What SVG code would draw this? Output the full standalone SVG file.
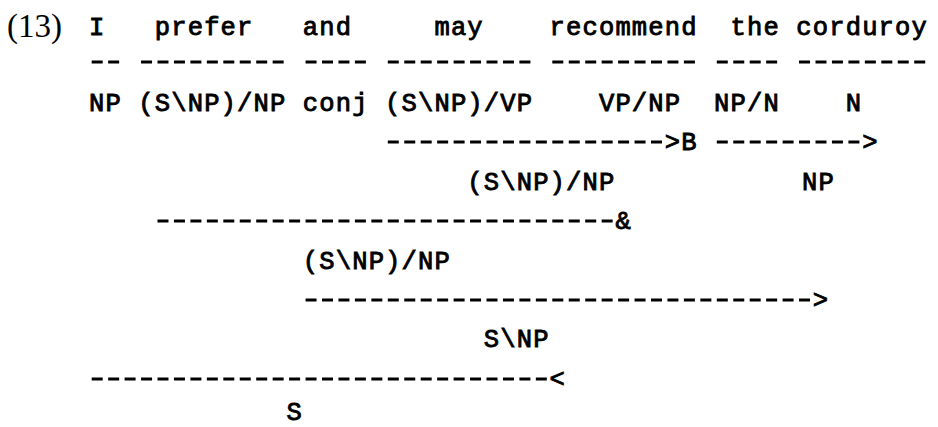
<svg xmlns="http://www.w3.org/2000/svg" width="938" height="427" viewBox="0 0 938 427">
<style>
text{fill:#000}
.t{font-family:"Liberation Mono","DejaVu Sans Mono",monospace;font-size:25.5px;letter-spacing:1.15px;stroke:#000;stroke-width:0.9px}
.num{font-family:"Liberation Serif","DejaVu Serif",serif;font-size:33px}
.d{stroke:#000;stroke-width:3.2;stroke-dasharray:11 5.45;fill:none}
</style>
<rect width="938" height="427" fill="#fff"/>
<text class="num" x="7" y="37">(13)</text>
<g id="words">
<g id="w-I"><text class="t" x="89" y="35">I</text></g>
<g id="w-prefer"><text class="t" x="154.8" y="35">prefer</text></g>
<g id="w-and"><text class="t" x="302.85" y="35">and</text></g>
<g id="w-may"><text class="t" x="434.45" y="35">may</text></g>
<g id="w-recommend"><text class="t" x="549.6" y="35">recommend</text></g>
<g id="w-the"><text class="t" x="730.55" y="35">the</text></g>
<g id="w-corduroy"><text class="t" x="796.35" y="35">corduroy</text></g>
</g>
<g id="lex">
<g id="c-I"><text class="t" x="89" y="111">NP</text></g>
<g id="c-prefer"><text class="t" x="138.35" y="111">(S\NP)/NP</text></g>
<g id="c-and"><text class="t" x="302.85" y="111">conj</text></g>
<g id="c-may"><text class="t" x="385.1" y="111">(S\NP)/VP</text></g>
<g id="c-recommend"><text class="t" x="598.95" y="111">VP/NP</text></g>
<g id="c-the"><text class="t" x="714.1" y="111">NP/N</text></g>
<g id="c-corduroy"><text class="t" x="845.7" y="111">N</text></g>
</g>
<g id="c-mayrec"><text class="t" x="467.35" y="190">(S\NP)/NP</text></g>
<g id="c-np"><text class="t" x="802" y="190">NP</text></g>
<g id="c-coord"><text class="t" x="302.85" y="268.5">(S\NP)/NP</text></g>
<g id="c-vp"><text class="t" x="483.8" y="347">S\NP</text></g>
<g id="c-s"><text class="t" x="286.4" y="420">S</text></g>
<g id="connectors">
<line class="d" x1="91.7" y1="62" x2="119.15" y2="62"/>
<line class="d" x1="141.05" y1="62" x2="283.65" y2="62"/>
<line class="d" x1="305.55" y1="62" x2="365.9" y2="62"/>
<line class="d" x1="387.8" y1="62" x2="530.4" y2="62"/>
<line class="d" x1="552.3" y1="62" x2="694.9" y2="62"/>
<line class="d" x1="716.8" y1="62" x2="777.15" y2="62"/>
<line class="d" x1="799.05" y1="62" x2="925.2" y2="62"/>
<line class="d" x1="387.8" y1="142" x2="662" y2="142"/>
<text class="t" x="664.75" y="150">&gt;B</text>
<line class="d" x1="716.8" y1="142" x2="859.4" y2="142"/>
<text class="t" x="862.15" y="150">&gt;</text>
<line class="d" x1="157.5" y1="221" x2="612.65" y2="221"/>
<text class="t" x="615.4" y="229">&amp;</text>
<line class="d" x1="305.55" y1="300" x2="810.05" y2="300"/>
<text class="t" x="812.8" y="308">&gt;</text>
<line class="d" x1="91.7" y1="379" x2="546.85" y2="379"/>
<text class="t" x="549.6" y="387">&lt;</text>
</g>
</svg>
